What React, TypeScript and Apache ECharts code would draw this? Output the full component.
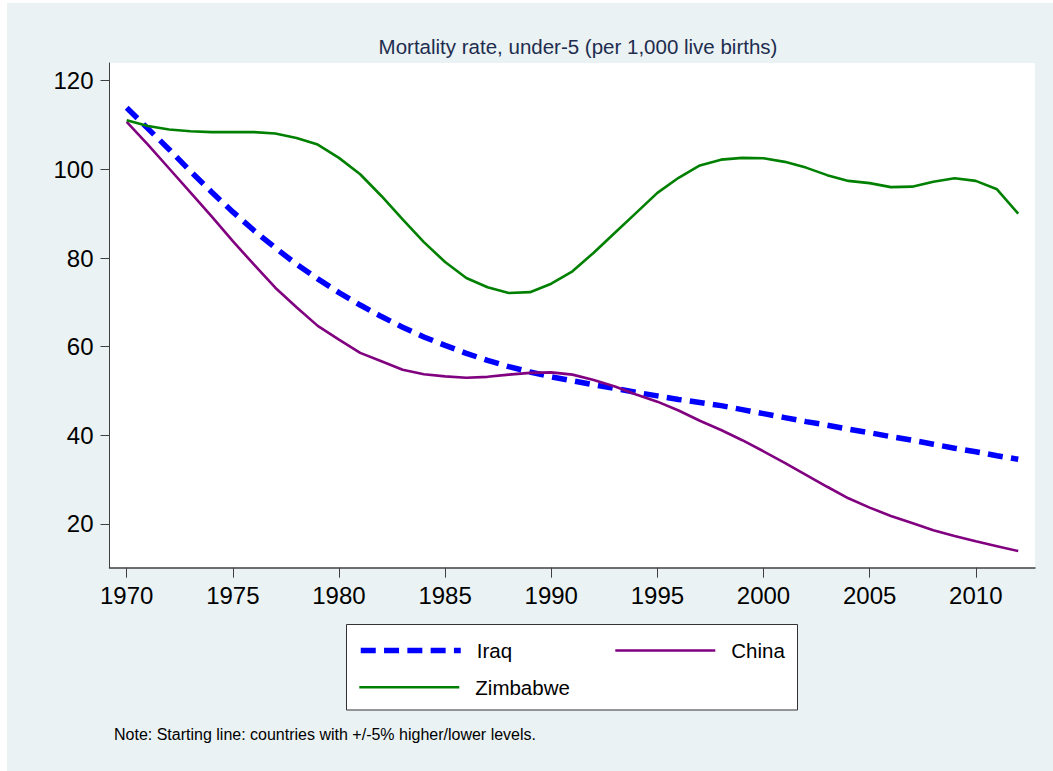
import React, { useEffect, useRef } from "react";
import * as echarts from "echarts";

const years = [
  1970, 1971, 1972, 1973, 1974, 1975, 1976, 1977, 1978, 1979,
  1980, 1981, 1982, 1983, 1984, 1985, 1986, 1987, 1988, 1989,
  1990, 1991, 1992, 1993, 1994, 1995, 1996, 1997, 1998, 1999,
  2000, 2001, 2002, 2003, 2004, 2005, 2006, 2007, 2008, 2009,
  2010, 2011, 2012,
];

const iraq = [
  113.9, 109.2, 104.5, 99.6, 94.9, 90.4, 86.2, 82.3, 78.6, 75.3,
  72.2, 69.4, 66.8, 64.4, 62.2, 60.3, 58.5, 56.9, 55.5, 54.3,
  53.2, 52.3, 51.4, 50.6, 49.7, 48.9, 48.1, 47.4, 46.7, 45.8,
  44.9, 44.0, 43.1, 42.3, 41.4, 40.6, 39.7, 38.9, 38.0, 37.1,
  36.3, 35.4, 34.6,
];

const china = [
  110.7, 105.6, 100.2, 94.8, 89.4, 83.8, 78.5, 73.3, 68.9, 64.7,
  61.6, 58.6, 56.7, 54.8, 53.8, 53.3, 53.0, 53.2, 53.7, 54.1,
  54.2, 53.7, 52.5, 51.0, 49.2, 47.6, 45.6, 43.3, 41.2, 38.9,
  36.4, 33.8, 31.1, 28.4, 25.8, 23.7, 21.8, 20.2, 18.6, 17.3,
  16.1, 15.0, 13.9,
];

const zimbabwe = [
  111.1, 109.8, 109.0, 108.6, 108.4, 108.4, 108.4, 108.1, 107.1, 105.6,
  102.6, 98.9, 94.0, 88.7, 83.6, 79.1, 75.5, 73.4, 72.1, 72.3,
  74.2, 77.0, 81.2, 85.7, 90.2, 94.7, 98.1, 100.9, 102.2, 102.6,
  102.5, 101.7, 100.4, 98.7, 97.4, 96.9, 96.0, 96.1, 97.2, 98.0,
  97.4, 95.5, 90.0,
];

const xTicks = [1970, 1975, 1980, 1985, 1990, 1995, 2000, 2005, 2010];
const yTicks = [20, 40, 60, 80, 100, 120];

const titleText = "Mortality rate, under-5 (per 1,000 live births)";
const noteText = "Note: Starting line: countries with +/-5% higher/lower levels.";

const FONT = "'Liberation Sans', Arial, Helvetica, sans-serif";

const IRAQ_COLOR = "#0000FF";
const CHINA_COLOR = "#800080";
const ZIM_COLOR = "#008000";

export default function App() {
  const ref = useRef<HTMLDivElement>(null);

  useEffect(() => {
    document.body.style.margin = "0";
    const chart = echarts.init(ref.current!, null, { renderer: "svg" });
    const toPairs = (vals: number[]) => years.map((y, i) => [y, vals[i]]);

    const legendBase = {
      padding: 0,
      itemWidth: 100,
      itemHeight: 20,
      orient: "horizontal",
      textStyle: { fontSize: 20.5, color: "#000000", fontFamily: FONT, padding: [0, 0, 0, 11] },
      itemStyle: { opacity: 0 },
      z: 10,
    };

    chart.setOption({
      animation: false,
      backgroundColor: "#ffffff",
      textStyle: { fontFamily: FONT },
      graphic: [
        {
          type: "rect",
          z: -10,
          silent: true,
          shape: { x: 7, y: 3, width: 1046, height: 768 },
          style: { fill: "#EAF2F3" },
        },
        {
          type: "rect",
          z: 1,
          silent: true,
          shape: { x: 346.5, y: 624.5, width: 451, height: 85.5 },
          style: { fill: "#ffffff", stroke: "#333333", lineWidth: 1 },
        },
        {
          type: "text",
          z: 5,
          x: 578,
          y: 46,
          style: {
            text: titleText,
            fill: "#1E2D4F",
            fontSize: 20.5,
            fontFamily: FONT,
            align: "center",
            verticalAlign: "middle",
          },
        },
        {
          type: "text",
          z: 5,
          x: 114,
          y: 734,
          style: {
            text: noteText,
            fill: "#000000",
            fontSize: 16,
            fontFamily: FONT,
            align: "left",
            verticalAlign: "middle",
          },
        },
      ],
      grid: {
        left: 109.5,
        right: 18,
        top: 63,
        bottom: 203.3,
        show: true,
        backgroundColor: "#ffffff",
        borderWidth: 0,
      },
      xAxis: {
        type: "value",
        min: 1969.19,
        max: 2012.79,
        splitLine: { show: false },
        axisLine: { show: true, onZero: false, lineStyle: { color: "#404040", width: 1.5 } },
        axisTick: {
          show: true,
          length: 10,
          customValues: xTicks,
          lineStyle: { color: "#404040", width: 1 },
        },
        axisLabel: {
          customValues: xTicks,
          formatter: (v: number) => String(v),
          fontSize: 24,
          color: "#000000",
          margin: 16,
          fontFamily: FONT,
        },
      },
      yAxis: {
        type: "value",
        min: 10.14,
        max: 124.0,
        splitLine: { show: false },
        axisLine: { show: true, onZero: false, lineStyle: { color: "#404040", width: 1 } },
        axisTick: {
          show: true,
          length: 9,
          customValues: yTicks,
          lineStyle: { color: "#404040", width: 1 },
        },
        axisLabel: {
          customValues: yTicks,
          formatter: (v: number) => String(v),
          fontSize: 24,
          color: "#000000",
          margin: 16,
          fontFamily: FONT,
        },
      },
      legend: [
        {
          ...legendBase,
          data: ["Iraq"],
          left: 358,
          top: 640,
          lineStyle: { color: IRAQ_COLOR, width: 5.5, type: [15, 8.3], cap: "butt" },
        },
        {
          ...legendBase,
          data: ["China"],
          left: 614,
          top: 640,
          lineStyle: { color: CHINA_COLOR, width: 2.6, type: "solid" },
        },
        {
          ...legendBase,
          data: ["Zimbabwe"],
          left: 358,
          top: 676.7,
          lineStyle: { color: ZIM_COLOR, width: 2.6, type: "solid" },
        },
      ],
      series: [
        {
          name: "Iraq",
          type: "line",
          data: toPairs(iraq),
          symbol: "none",
          showSymbol: false,
          color: IRAQ_COLOR,
          lineStyle: { color: IRAQ_COLOR, width: 5.5, type: [15, 8.3], cap: "butt" },
          z: 2,
        },
        {
          name: "China",
          type: "line",
          data: toPairs(china),
          symbol: "none",
          showSymbol: false,
          color: CHINA_COLOR,
          lineStyle: { color: CHINA_COLOR, width: 2.6 },
          z: 3,
        },
        {
          name: "Zimbabwe",
          type: "line",
          data: toPairs(zimbabwe),
          symbol: "none",
          showSymbol: false,
          color: ZIM_COLOR,
          lineStyle: { color: ZIM_COLOR, width: 2.6 },
          z: 4,
        },
      ],
    });

    return () => chart.dispose();
  }, []);

  return <div ref={ref} style={{ width: 1053, height: 771 }} />;
}
